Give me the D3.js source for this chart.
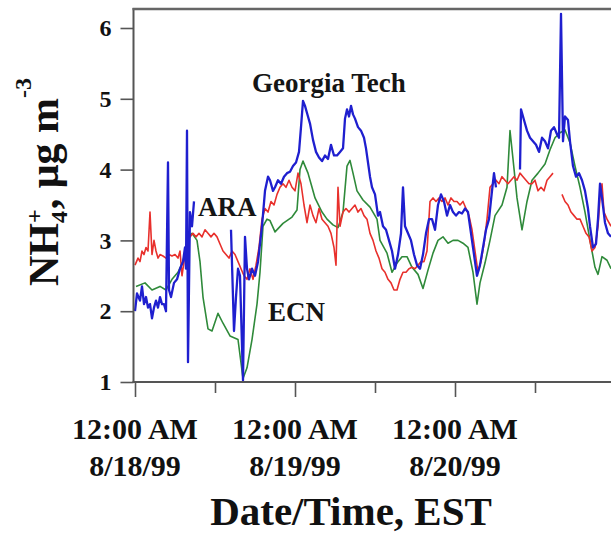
<!DOCTYPE html>
<html><head><meta charset="utf-8">
<script src="https://cdn.jsdelivr.net/npm/d3@7"></script>
<style>body{margin:0;background:#fff}svg{display:block}</style>
</head><body>
<svg id="c" width="611" height="536"></svg>
<script>
// time in hours after 12:00 AM 8/18/99, value in ug m-3 (null = gap)
const georgiaTech = [
[0.0,2.0],[0.3,2.25],[0.75,2.15],[1.05,2.35],[1.35,2.1],[1.65,2.2],[1.95,2.05],[2.25,2.1],[2.55,1.9],[2.85,2.05],
[3.15,2.15],[3.45,2.05],[3.75,2.2],[4.05,2.1],[4.35,2.1],[4.65,2.0],[4.95,4.1],[5.1,2.3],[5.4,2.2],[5.85,2.4],
[6.3,2.45],[6.75,2.6],[7.2,2.7],[7.5,2.9],[7.65,2.6],[7.8,4.55],[7.95,1.28],[8.25,3.4],[8.55,3.2],[8.85,3.55],
[9.0,null],
[14.4,3.15],[14.85,1.72],[15.15,2.2],[15.45,2.6],[15.75,2.5],[16.2,1.02],[16.5,3.05],[16.8,2.6],[17.1,2.45],
[17.55,2.6],[18.0,2.5],[18.45,2.7],[19.05,3.2],[19.5,3.7],[19.95,3.9],[20.25,3.85],[20.7,3.7],[21.0,3.75],[21.45,3.85],
[21.9,3.8],[22.35,3.9],[22.8,3.95],[23.25,3.97],[23.7,4.05],[24.15,4.1],[24.6,4.25],[24.9,4.6],[25.2,4.97],[25.5,4.9],
[25.8,4.8],[26.25,4.65],[26.7,4.42],[27.15,4.25],[27.6,4.17],[28.05,4.12],[28.5,4.2],[28.95,4.15],[29.4,4.35],[29.85,4.2],
[30.3,4.2],[30.75,4.25],[31.2,4.3],[31.5,4.72],[31.8,4.85],[32.1,4.75],[32.4,4.9],[32.7,4.78],[33.0,4.72],[33.45,4.6],
[33.9,4.55],[34.35,4.45],[34.65,4.3],[34.95,4.1],[35.25,3.9],[35.55,3.75],[36.0,3.65],[36.45,3.35],[36.75,3.4],[37.2,3.2],
[37.65,3.15],[38.1,3.0],[38.55,2.85],[39.0,2.6],[39.45,2.8],[39.9,3.1],[40.2,3.75],[40.5,3.2],[40.95,3.1],[41.4,3.0],
[41.85,2.8],[42.3,2.65],[42.75,2.6],[43.2,2.8],[43.65,3.1],[44.1,3.3],[44.55,3.3],[45.0,3.15],[45.45,3.5],[45.9,3.65],
[46.35,3.55],[46.8,3.35],[47.25,3.5],[47.7,3.4],[48.15,3.35],[48.6,3.4],[49.05,3.38],[49.5,3.45],[49.95,3.4],[50.4,3.1],
[50.85,2.8],[51.3,2.5],[51.75,2.65],[52.2,2.9],[52.65,3.15],[53.1,3.3],[53.55,3.7],[53.85,3.95],[54.15,3.75],
[55.0,null],
[57.75,4.0],[57.9,4.85],[58.35,4.7],[58.8,4.55],[59.25,4.45],[59.7,4.4],[60.15,4.35],[60.6,4.25],[61.05,4.45],[61.5,4.4],
[61.95,4.3],[62.4,4.55],[62.85,4.6],[63.3,4.5],[63.6,4.45],[63.9,6.2],[64.2,4.4],[64.5,4.75],[64.95,4.7],[65.25,4.4],
[65.7,4.05],[66.15,3.9],[66.6,3.95],[67.05,3.85],[67.5,3.7],[67.95,3.45],[68.25,3.2],[68.7,2.9],[69.15,2.95],[69.45,3.3],
[69.75,3.8],[70.05,3.6],[70.5,3.25],[70.95,3.1],[71.4,3.05]
];
const ara = [
[0.0,2.65],[0.45,2.75],[0.75,2.7],[1.05,2.85],[1.35,2.8],[1.65,2.9],[1.95,2.85],[2.25,3.4],[2.55,2.8],[2.85,3.0],
[3.15,2.85],[3.45,2.75],[3.75,2.8],[4.2,2.78],[4.65,2.75],[5.1,2.8],[5.55,2.78],[6.0,2.8],[6.45,2.75],[6.75,2.85],
[7.05,2.5],[7.35,2.7],[7.8,3.0],[8.25,3.05],[8.7,3.1],[9.15,3.05],[9.6,3.1],[10.05,3.05],[10.5,3.15],[10.95,3.1],
[11.4,3.05],[11.85,3.1],[12.3,3.05],[12.75,2.95],[13.2,2.85],[13.65,2.8],[14.1,2.75],[14.55,2.85],[15.0,2.8],[15.45,2.7],
[15.9,2.6],[16.35,2.5],[16.8,2.45],[17.25,2.6],[17.7,2.45],[18.15,2.65],[18.6,2.9],[19.05,3.3],[19.5,3.45],[19.95,3.4],
[20.4,3.55],[20.85,3.5],[21.3,3.65],[21.75,3.75],[22.2,3.8],[22.65,3.75],[23.1,3.85],[23.55,3.75],[24.0,3.7],[24.45,3.95],
[24.9,3.8],[25.35,3.5],[25.8,3.25],[26.25,3.5],[26.7,3.35],[27.15,3.25],[27.6,3.45],[28.05,3.3],[28.5,3.25],[28.95,3.2],
[29.4,3.1],[29.85,2.9],[30.15,2.65],[30.45,3.75],[30.75,3.2],[31.2,3.4],[31.65,3.45],[32.1,3.4],[32.55,3.45],[33.0,3.5],
[33.45,3.4],[33.9,3.45],[34.35,3.35],[34.8,3.3],[35.25,3.1],[35.7,3.0],[36.15,2.85],[36.6,2.75],[37.05,2.6],[37.5,2.55],
[37.95,2.45],[38.4,2.4],[38.85,2.3],[39.3,2.3],[39.75,2.45],[40.2,2.55],[40.65,2.55],[41.1,2.6],[41.55,2.62],[42.0,2.6],
[42.45,2.65],[42.9,2.7],[43.35,2.7],[43.8,2.85],[44.25,3.55],[44.7,3.6],[45.15,3.55],[45.6,3.6],[46.05,3.55],[46.5,3.6],
[46.95,3.5],[47.4,3.6],[47.85,3.55],[48.3,3.55],[48.75,3.5],[49.2,3.55],[49.65,3.45],[50.1,3.35],[50.55,3.15],[51.0,2.85],
[51.45,2.55],[51.9,2.7],[52.35,2.95],[52.8,3.3],[53.25,3.75],[53.7,3.8],[54.15,3.85],[54.6,3.8],[55.05,3.9],[55.5,3.85],
[55.95,3.8],[56.4,3.85],[56.85,3.9],[57.3,3.85],[57.75,3.95],[58.2,3.9],[58.65,3.85],[59.1,3.8],[59.55,3.8],[60.0,3.85],
[60.45,3.7],[60.9,3.75],[61.35,3.7],[61.8,3.85],[62.25,3.9],[62.7,3.95],
[63.3,null],
[64.05,3.65],[64.5,3.55],[64.95,3.5],[65.4,3.4],[65.85,3.35],[66.3,3.3],[66.75,3.3],[67.2,3.2],[67.65,3.1],[68.1,3.05],
[68.55,2.85],[69.0,2.9],[69.45,3.2],[69.75,3.6],[70.05,3.8],[70.35,3.4],[70.8,3.3],[71.4,3.2]
];
const ecn = [
[0.15,2.35],[1.5,2.4],[2.55,2.3],[3.75,2.35],[4.65,2.3],[5.55,2.45],[6.45,2.55],[7.2,2.7],[7.95,3.05],[8.55,3.1],
[9.3,3.0],[9.75,2.7],[10.2,2.2],[10.95,1.75],[11.55,1.72],[12.45,1.97],[13.2,1.83],[14.25,1.65],[15.45,1.6],[16.2,1.05],
[16.8,1.2],[17.55,1.6],[18.3,2.1],[18.75,2.55],[19.2,3.2],[19.8,3.3],[20.25,3.28],[21.0,3.12],[22.2,3.24],[23.55,3.33],
[24.3,3.43],[24.75,4.0],[25.2,4.12],[25.95,3.95],[26.55,3.75],[27.0,3.6],[28.05,3.4],[28.8,3.3],[29.7,3.22],[30.45,3.18],
[31.2,3.4],[31.8,4.05],[32.25,4.13],[32.7,3.95],[33.3,3.7],[34.2,3.57],[35.25,3.47],[36.3,3.3],[36.75,3.0],[37.8,2.82],
[38.55,2.55],[39.3,2.68],[40.05,2.77],[40.8,2.77],[41.55,2.62],[42.45,2.52],[43.2,2.32],[43.95,2.58],[44.7,2.82],[45.45,3.0],
[46.2,3.05],[46.95,2.96],[47.7,3.0],[48.45,3.0],[49.2,2.96],[49.95,2.9],[50.7,2.55],[51.3,2.1],[51.75,2.4],[52.5,2.68],
[53.25,3.0],[54.0,3.35],[55.05,3.5],[55.8,3.75],[56.25,4.55],[56.7,4.15],[57.3,3.6],[58.05,3.15],[58.8,3.55],[59.55,3.85],
[60.45,3.95],[61.5,4.08],[62.25,4.28],[63.0,4.45],[63.75,4.52],[64.5,4.56],[65.25,4.38],[66.0,4.05],[66.75,3.75],[67.5,3.4],
[68.25,3.0],[69.0,2.62],[69.45,2.52],[70.05,2.77],[70.8,2.72],[71.4,2.6]
];
const yTicks = [1, 2, 3, 4, 5, 6];
const xTicks = [0, 12, 24, 36, 48, 60];
const dayTicks = [0, 24, 48];
const dayLabels = ["8/18/99", "8/19/99", "8/20/99"];
const timeLabel = "12:00 AM";
const seriesNames = ["Georgia Tech", "ARA", "ECN"];
const colors = {gt: "#1f1fcf", ara: "#e8302c", ecn: "#2f8a3a"};

const svg = d3.select("#c");
const font = "'Liberation Serif','Times New Roman',serif";
const x = d3.scaleLinear().domain([0, 72]).range([135, 615]);
const y = d3.scaleLinear().domain([1, 6]).range([382, 28]);
const axisX = 133.5, plotTop = 9, plotBottom = 382;

svg.append("rect").attr("width", 611).attr("height", 536).attr("fill", "#fff");

svg.append("clipPath").attr("id", "clip").append("rect")
  .attr("x", axisX).attr("y", plotTop).attr("width", 611 - axisX).attr("height", plotBottom - plotTop);

const line = d3.line().defined(d => d[1] !== null).x(d => x(d[0])).y(d => y(d[1]));
const g = svg.append("g").attr("clip-path", "url(#clip)");
g.append("path").datum(ecn).attr("d", line).attr("fill", "none").attr("stroke", colors.ecn).attr("stroke-width", 1.6).attr("stroke-linejoin", "round");
g.append("path").datum(ara).attr("d", line).attr("fill", "none").attr("stroke", colors.ara).attr("stroke-width", 1.6).attr("stroke-linejoin", "round");
g.append("path").datum(georgiaTech).attr("d", line).attr("fill", "none").attr("stroke", colors.gt).attr("stroke-width", 2.3).attr("stroke-linejoin", "round");

// Y axis
const ya = svg.append("g").attr("transform", `translate(${axisX},0)`)
  .call(d3.axisLeft(y).tickValues(yTicks).tickSize(13).tickPadding(9).tickFormat(d3.format("d")));
ya.select(".domain").remove();
ya.selectAll(".tick line").attr("stroke", "#555").attr("stroke-width", 1.6);
ya.selectAll(".tick text").attr("font-family", font).attr("font-weight", "bold").attr("font-size", 24).attr("fill", "#111");

// X axis
const xa = svg.append("g").attr("transform", `translate(0,${plotBottom})`)
  .call(d3.axisBottom(x).tickValues(xTicks).tickSize(11).tickFormat(""));
xa.select(".domain").remove();
xa.selectAll(".tick line").attr("stroke", "#555").attr("stroke-width", 1.6)
  .attr("y2", d => dayTicks.includes(d) ? 15 : 11);

dayTicks.forEach((t, i) => {
  const tx = svg.append("text").attr("x", x(t)).attr("text-anchor", "middle")
    .attr("font-family", font).attr("font-weight", "bold").attr("font-size", 30).attr("fill", "#111");
  tx.append("tspan").attr("x", x(t)).attr("y", 439).text(timeLabel);
  tx.append("tspan").attr("x", x(t)).attr("y", 476).text(dayLabels[i]);
});

// frame lines
svg.append("line").attr("x1", axisX).attr("x2", axisX).attr("y1", plotTop - 1).attr("y2", plotBottom + 1).attr("stroke", "#555").attr("stroke-width", 2);
svg.append("line").attr("x1", axisX - 1).attr("x2", 611).attr("y1", plotTop).attr("y2", plotTop).attr("stroke", "#666").attr("stroke-width", 2.6);
svg.append("line").attr("x1", axisX - 1).attr("x2", 611).attr("y1", plotBottom).attr("y2", plotBottom).attr("stroke", "#555").attr("stroke-width", 2);

// series labels
const lab = (t, lx, ly) => svg.append("text").attr("x", lx).attr("y", ly).text(t)
  .attr("font-family", font).attr("font-weight", "bold").attr("font-size", 27).attr("fill", "#151515");
lab(seriesNames[0], 252, 92);
lab(seriesNames[1], 198, 216);
lab(seriesNames[2], 268, 321);

// axis titles
svg.append("text").attr("x", 351).attr("y", 525).attr("text-anchor", "middle")
  .attr("font-family", font).attr("font-weight", "bold").attr("font-size", 41).attr("fill", "#111")
  .text("Date/Time, EST");

const yt = svg.append("text").attr("transform", "translate(58,182) rotate(-90)").attr("text-anchor", "middle")
  .attr("font-family", font).attr("font-weight", "bold").attr("font-size", 42).attr("fill", "#111");
yt.append("tspan").text("NH");
yt.append("tspan").attr("font-size", 24).attr("dy", 9).text("4");
yt.append("tspan").attr("font-size", 24).attr("dx", -12).attr("dy", -25).text("+");
yt.append("tspan").attr("dy", 16).text(", μg m");
yt.append("tspan").attr("font-size", 24).attr("dy", -27).text("-3");
</script>
</body></html>
